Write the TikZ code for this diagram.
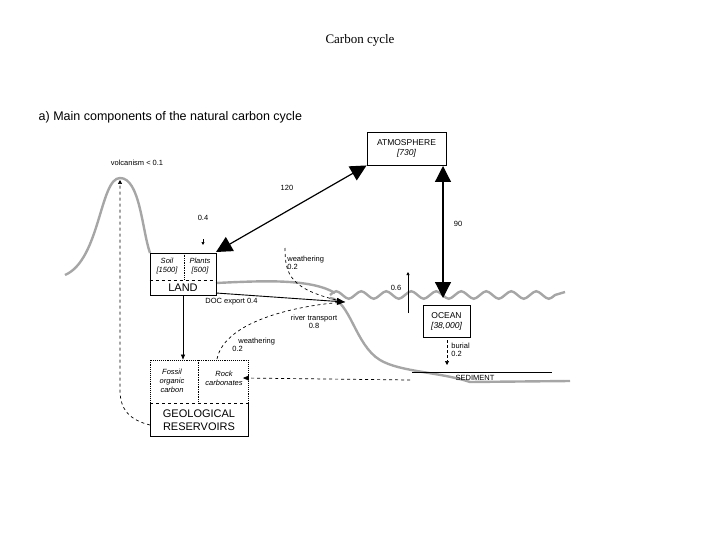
\documentclass[tikz,border=0pt]{standalone}
\usepackage{fontspec}
\setmainfont{Liberation Serif}
\newfontfamily\sansf{Liberation Sans}
\usetikzlibrary{arrows.meta}
\begin{document}
\begin{tikzpicture}[x=1pt,y=-1pt,line width=0.7pt,
 lbl/.style={font=\sansf\fontsize{7.5}{8.5}\selectfont,inner sep=0pt},
 bigboth/.style={line width=1.2pt,{Triangle[length=16pt,width=16pt]}-{Triangle[length=16pt,width=16pt]}},
 grey/.style={draw=black!35,line width=2.4pt},
 box/.style={draw,inner sep=0pt,line width=0.9pt}]
\useasboundingbox (0,0) rectangle (720,540);
\node[font=\fontsize{13}{15}\selectfont] (title) at (360,40) {Carbon cycle};
\node[font=\sansf\fontsize{12.5}{14}\selectfont,anchor=west] (sub) at (35,117) {a) Main components of the natural carbon cycle};
% landscape
\draw[grey] (65,275) .. controls (100,260) and (100,178) .. (120,178) .. controls (140,178) and (142,230) .. (150,253);
\draw[grey] (216,283) .. controls (260,281) and (310,278) .. (335,293);
\draw[grey] (330,295) \foreach \i in {0,...,8}{ .. controls ++(6,-5) and ++(-6,-5) .. ++(12.5,0) .. controls ++(6,5) and ++(-6,5) .. ++(12.5,0)} -- (565,292);
\draw[grey] (330,298) .. controls (350,300) and (355,345) .. (380,360) .. controls (400,372) and (440,372) .. (470,382) -- (570,381);
% boxes
\node[box,minimum width=79pt,minimum height=33pt,font=\sansf\fontsize{8.5}{10}\selectfont,align=center] (atm) at (406.5,148.5) {ATMOSPHERE\\\itshape[730]};
\node[box,minimum width=66pt,minimum height=42pt] (land) at (183,274) {};
\draw[dashed] (land.west|-0,280) -- (land.east|-0,280);
\draw[densely dotted] (184,253) -- (184,280);
\node[lbl,align=center,font=\sansf\itshape\fontsize{7.5}{9}\selectfont] (soil) at (167,266) {Soil\\{}[1500]};
\node[lbl,align=center,font=\sansf\itshape\fontsize{7.5}{9}\selectfont] (plants) at (200,266) {Plants\\{}[500]};
\node[lbl,font=\sansf\fontsize{11}{12}\selectfont] (landt) at (183,288) {LAND};
\node[box,minimum width=47pt,minimum height=32pt,align=center,font=\sansf\fontsize{8.5}{10}\selectfont] (ocean) at (446.5,321) {OCEAN\\\itshape[38,000]};
\node[box,densely dotted,minimum width=98pt,minimum height=76pt] (geo) at (199,398) {};
\draw[dashed] (150,403) -- (248,403);
\draw[line width=0.9pt] (150,403) -- (150,436) -- (248,436) -- (248,403);
\draw[densely dotted] (198,360) -- (198,403);
\node[lbl,align=center,font=\sansf\itshape\fontsize{7.5}{9}\selectfont] (fossil) at (172,381) {Fossil\\organic\\carbon};
\node[lbl,align=center,font=\sansf\itshape\fontsize{7.5}{9}\selectfont] (rock) at (224,378) {Rock\\carbonates};
\node[lbl,align=center,font=\sansf\fontsize{11}{13}\selectfont] (geot) at (199,420) {GEOLOGICAL\\RESERVOIRS};
% fluxes
\draw[bigboth] (216,252) -- (atm.south west);
\node[lbl] (l120) at (287,188) {120};
\node[lbl] (l04) at (203,218) {0.4};
\coordinate (a04) at (203,239);
\draw[-{Triangle[length=3pt,width=3pt]}] (a04) -- ++(0,6);
\draw[bigboth] (443,166) -- (443,298);
\node[lbl] (l90) at (458,224) {90};
\draw[-{Triangle[length=5pt,width=4pt]}] (land.south) -- (geo.north-|land.south);
\coordinate (docend) at (345,302);
\draw[line width=0.9pt,-{Triangle[length=8pt,width=7pt]}] (216,293) -- (docend);
\node[lbl,anchor=west] (doc) at (205,302) {DOC export 0.4};
\draw[dashed] (285,248) .. controls (285,275) and (290,290) .. (docend);
\node[lbl,anchor=west,align=left] (w1) at (287,263) {weathering\\0.2};
\draw[dashed] (217,359) .. controls (225,320) and (300,305) .. (docend);
\node[lbl,anchor=west,align=left] (w2) at (232,345) {\hspace{6pt}weathering\\0.2};
\node[lbl,align=center] (river) at (314,322) {river transport\\0.8};
\draw[-{Triangle[length=3pt,width=3pt]}] (408,313) -- (408,272);
\node[lbl] (l06) at (396,288) {0.6};
\draw[densely dashed,-{Triangle[length=4pt,width=4pt]}] (447,340) -- (447,365);
\node[lbl,anchor=west,align=left] (bur) at (451,350) {burial\\0.2};
\draw (412,372) -- (552,372);
\node[lbl] (sed) at (475,378) {SEDIMENT};
\draw[dashed,-{Triangle[length=6pt,width=5pt]}] (410,380) -- (rock.east);
\coordinate (vtop) at (120,180);
\draw[dashed,-{Triangle[length=4pt,width=4pt]}] (150,425) .. controls (130,420) and (120,410) .. (120,390) -- (vtop);
\node[lbl] (volc) at (137,163) {volcanism < 0.1};
\end{tikzpicture}
\end{document}
